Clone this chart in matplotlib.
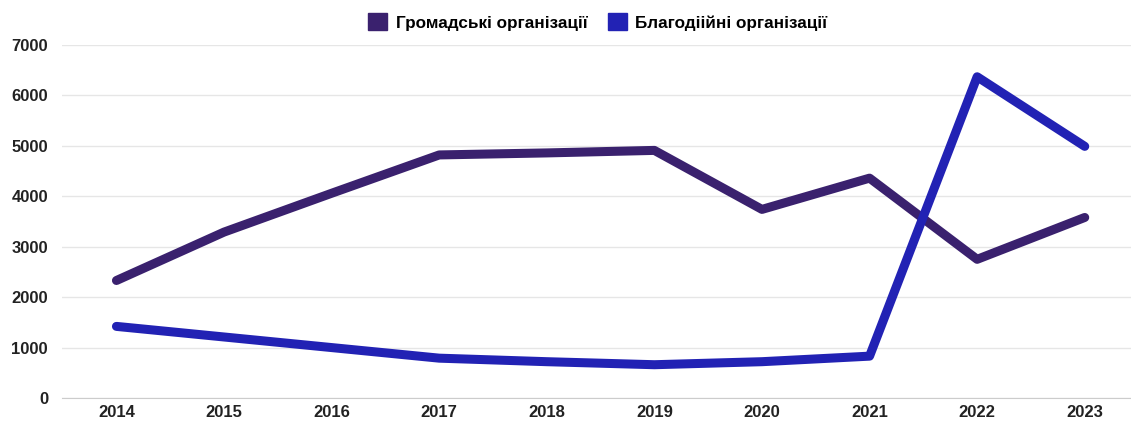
import matplotlib
matplotlib.use("Agg")
import matplotlib.pyplot as plt
from matplotlib.patches import Patch

plt.rcParams['font.family'] = ['Liberation Sans', 'DejaVu Sans']

years = ['2014', '2015', '2016', '2017', '2018', '2019', '2020', '2021', '2022', '2023']
public_orgs = [2330, 3290, 4060, 4820, 4860, 4910, 3740, 4360, 2750, 3580]
charity_orgs = [1420, 1210, 1000, 790, 720, 660, 720, 830, 6370, 4990]
series_names = ['Громадські організації', 'Благодіійні організації']
colors = ['#3a216e', '#2222b4']
yticks = [0, 1000, 2000, 3000, 4000, 5000, 6000, 7000]

fig = plt.figure(figsize=(11.31, 4.21), dpi=100)
ax = fig.add_axes([62/1131, 23/421, (1131-62)/1131, (398-45)/421])

x = list(range(len(years)))
for vals, c in zip([public_orgs, charity_orgs], colors):
    ax.plot(x, vals, color=c, lw=6.5, solid_capstyle='round', solid_joinstyle='round', zorder=3)

ax.set_xlim(-0.506, 9.43)
ax.set_ylim(0, 7000)
ax.set_yticks(yticks)
ax.set_yticklabels([str(t) for t in yticks], fontsize=12, fontweight='bold', color='#222222')
ax.set_xticks(x)
ax.set_xticklabels(years, fontsize=12, fontweight='bold', color='#222222')
ax.tick_params(axis='y', length=0, pad=10)
ax.tick_params(axis='x', length=0, pad=5)
ax.grid(axis='y', color='#e6e6e6', lw=1)
ax.set_axisbelow(True)
for s in ['top', 'right', 'left']:
    ax.spines[s].set_visible(False)
ax.spines['bottom'].set_color('#cccccc')

handles = [Patch(facecolor=c, edgecolor=c, alpha=1) for c in colors]
fig.legend(handles, series_names, loc='center', bbox_to_anchor=(598/1131, 1 - 22/421),
           ncol=2, frameon=False, handlelength=1.1, handleheight=1.1,
           handletextpad=0.5, columnspacing=1.2,
           prop={'family': ['Liberation Sans', 'DejaVu Sans'], 'weight': 'bold', 'size': 12.3})

fig.savefig('out.png', dpi=100)
